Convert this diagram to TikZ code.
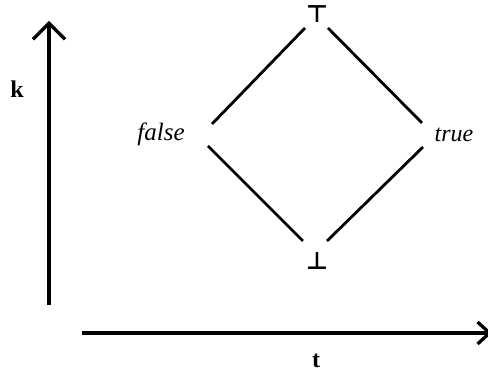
\documentclass[tikz,border=0pt]{standalone}
\usepackage{fontspec}
\setmainfont{Liberation Serif}
\newfontfamily\symfont{DejaVu Sans}
\usetikzlibrary{arrows.meta}
\begin{document}
\begin{tikzpicture}[x=1pt,y=1pt,
  lbl/.style={inner sep=0pt,font=\fontsize{24}{28}\selectfont},
  sym/.style={inner sep=0pt,font=\fontsize{24}{28}\selectfont\symfont\bfseries},
  edge/.style={line width=2.8pt},
  axis/.style={line width=3.3pt}]
\useasboundingbox (0,0) rectangle (488,374);
% axes
\coordinate (ky0) at (49,69);
\coordinate (ky1) at (49,353);
\coordinate (tx0) at (82,41);
\coordinate (tx1) at (492,41);
\draw[axis,-{Straight Barb[length=16pt,width=32pt,line width=3.3pt]}] (ky0) -- (ky1);
\draw[axis,-{Straight Barb[length=12pt,width=22pt,line width=3.3pt]}] (tx0) -- (tx1);
\node[lbl,font=\fontsize{24}{28}\selectfont\bfseries] (k) at (17,285) {k};
\node[lbl,font=\fontsize{24}{28}\selectfont\bfseries] (t) at (316,13) {t};
% lattice
\node[sym] (top) at (317,360) {⊤};
\node[sym] (bot) at (317,113) {⊥};
\node[lbl,font=\fontsize{25}{28}\selectfont\itshape] (false) at (161,240) {false};
\node[lbl,font=\fontsize{24}{28}\selectfont\itshape] (true) at (454,239) {true};
\draw[edge] ([shift={(-12,-14)}]top.center) -- ([shift={(51,10)}]false.center);
\draw[edge] ([shift={(11,-14)}]top.center) -- ([shift={(-32,12)}]true.center);
\draw[edge] ([shift={(47,-12)}]false.center) -- ([shift={(-14,20)}]bot.center);
\draw[edge] ([shift={(-31,-12)}]true.center) -- ([shift={(10,20)}]bot.center);
\end{tikzpicture}
\end{document}
